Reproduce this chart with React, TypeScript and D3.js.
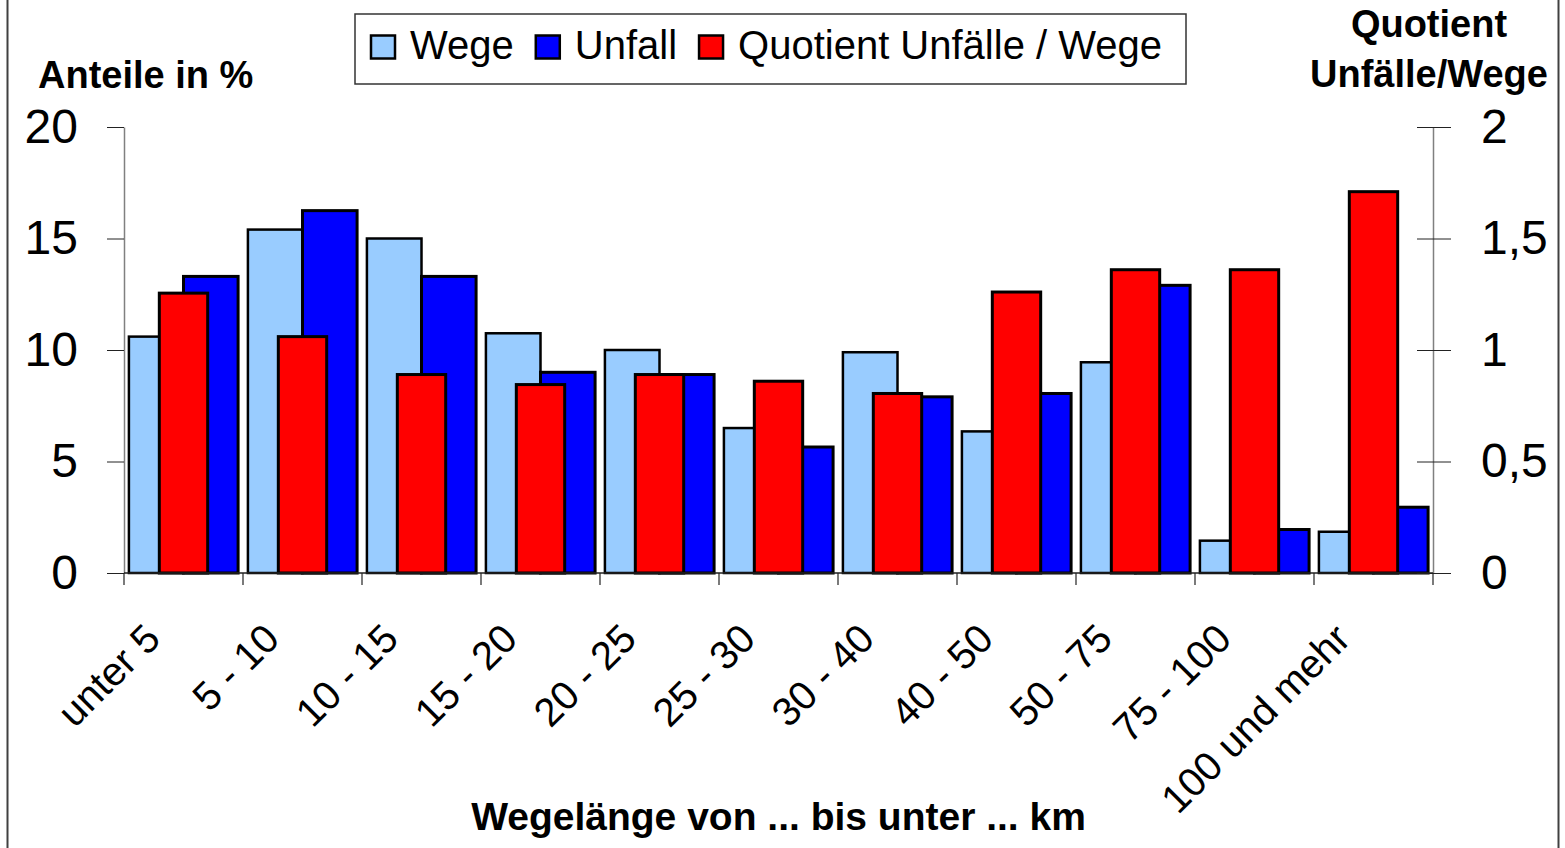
import React, { useEffect, useRef } from "react";
import * as d3 from "d3";

const categories = [
  "unter 5",
  "5 - 10",
  "10 - 15",
  "15 - 20",
  "20 - 25",
  "25 - 30",
  "30 - 40",
  "40 - 50",
  "50 - 75",
  "75 - 100",
  "100 und mehr",
];
const wege = [10.6, 15.4, 15.0, 10.75, 10.0, 6.5, 9.9, 6.35, 9.45, 1.45, 1.85];
const unfall = [13.3, 16.25, 13.3, 9.0, 8.9, 5.65, 7.9, 8.05, 12.9, 1.95, 2.95];
const quotient = [1.255, 1.06, 0.89, 0.845, 0.89, 0.86, 0.805, 1.26, 1.36, 1.36, 1.71];
const leftTicks = [0, 5, 10, 15, 20];
const rightTicks = [0, 0.5, 1, 1.5, 2];
const legendItems = [
  { label: "Wege", color: "#99CCFF" },
  { label: "Unfall", color: "#0000FF" },
  { label: "Quotient Unfälle / Wege", color: "#FF0000" },
];

const FONT = "'Liberation Sans', Arial, sans-serif";

const Chart: React.FC<{ width?: number; height?: number }> = ({
  width = 1565,
  height = 848,
}) => {
  const ref = useRef<SVGSVGElement | null>(null);

  useEffect(() => {
    const svg = d3.select(ref.current);
    svg.selectAll("*").remove();
    svg.attr("width", width).attr("height", height);

    const left = 124;
    const right = 1433;
    const top = 127;
    const bottom = 573;

    // outer frame
    svg
      .append("rect")
      .attr("x", 7.5)
      .attr("y", -3)
      .attr("width", 1551)
      .attr("height", height + 6)
      .attr("fill", "#fff")
      .attr("stroke", "#404040")
      .attr("stroke-width", 2);

    // scales
    const x = d3.scaleBand<string>().domain(categories).range([left, right]);
    const pair = d3
      .scaleBand<string>()
      .domain(["wege", "unfall"])
      .range([0, x.bandwidth()])
      .paddingInner(0)
      .paddingOuter(0.09);
    const single = d3
      .scaleBand<string>()
      .domain(["q"])
      .range([0, x.bandwidth()])
      .paddingOuter(0.73);
    const yL = d3.scaleLinear().domain([0, 20]).range([bottom, top]);
    const yR = d3.scaleLinear().domain([0, 2]).range([bottom, top]);
    const de = d3.formatLocale({
      decimal: ",",
      thousands: ".",
      grouping: [3],
      currency: ["", "€"],
    });
    const fmt = de.format("~g");

    // bars
    const drawBars = (
      vals: number[],
      color: string,
      xOff: (i: number) => number,
      w: number,
      y: d3.ScaleLinear<number, number>,
      sw: number,
    ) => {
      svg
        .append("g")
        .selectAll("rect")
        .data(vals)
        .enter()
        .append("rect")
        .attr("x", (d, i) => xOff(i))
        .attr("y", (d) => y(d))
        .attr("width", w)
        .attr("height", (d) => bottom - y(d))
        .attr("fill", color)
        .attr("stroke", "#000")
        .attr("stroke-width", sw);
    };
    drawBars(
      wege,
      "#99CCFF",
      (i) => (x(categories[i]) ?? 0) + (pair("wege") ?? 0),
      pair.bandwidth(),
      yL,
      2.5,
    );
    drawBars(
      unfall,
      "#0000FF",
      (i) => (x(categories[i]) ?? 0) + (pair("unfall") ?? 0),
      pair.bandwidth(),
      yL,
      3,
    );
    drawBars(
      quotient,
      "#FF0000",
      (i) => (x(categories[i]) ?? 0) + (single("q") ?? 0),
      single.bandwidth(),
      yR,
      3,
    );

    // left axis
    const gL = svg
      .append("g")
      .attr("transform", `translate(${left},0)`)
      .call(
        d3
          .axisLeft(yL)
          .tickValues(leftTicks)
          .tickSize(17)
          .tickSizeOuter(0)
          .tickPadding(29)
          .tickFormat((d) => fmt(+d)),
      );
    gL.attr("font-family", FONT).attr("font-size", 48);
    gL.select(".domain").attr("stroke", "#808080").attr("stroke-width", 1.5);
    gL.selectAll(".tick line").attr("stroke", "#222");
    gL.selectAll(".tick text").attr("fill", "#000");

    // right axis
    const gR = svg
      .append("g")
      .attr("transform", `translate(${right},0)`)
      .call(
        d3
          .axisRight(yR)
          .tickValues(rightTicks)
          .tickSize(18)
          .tickSizeOuter(0)
          .tickPadding(30)
          .tickFormat((d) => fmt(+d)),
      );
    gR.attr("font-family", FONT).attr("font-size", 48);
    gR.select(".domain").attr("stroke", "#808080").attr("stroke-width", 1.5);
    gR.selectAll(".tick line").attr("stroke", "#222").attr("x1", -16);
    gR.selectAll(".tick text").attr("fill", "#000");

    // x axis line and category ticks
    const bounds = categories.map((c) => x(c) ?? 0).concat([right]);
    svg
      .append("line")
      .attr("x1", left)
      .attr("x2", right)
      .attr("y1", bottom)
      .attr("y2", bottom)
      .attr("stroke", "#222")
      .attr("stroke-width", 1.5);
    svg
      .append("g")
      .selectAll("line")
      .data(bounds)
      .enter()
      .append("line")
      .attr("x1", (d) => d)
      .attr("x2", (d) => d)
      .attr("y1", bottom)
      .attr("y2", bottom + 12)
      .attr("stroke", "#222")
      .attr("stroke-width", 1.2);

    // category labels
    svg
      .append("g")
      .selectAll("text")
      .data(categories)
      .enter()
      .append("text")
      .attr(
        "transform",
        (d) =>
          `translate(${(x(d) ?? 0) + x.bandwidth() / 2 - 21},${bottom + 68}) rotate(-45)`,
      )
      .attr("text-anchor", "end")
      .attr("font-family", FONT)
      .attr("font-size", 40)
      .text((d) => d);

    // axis titles
    svg
      .append("text")
      .attr("x", 38)
      .attr("y", 88)
      .attr("font-family", FONT)
      .attr("font-weight", "bold")
      .attr("font-size", 38)
      .text("Anteile in %");

    const rt = svg
      .append("text")
      .attr("text-anchor", "middle")
      .attr("font-family", FONT)
      .attr("font-weight", "bold")
      .attr("font-size", 38);
    rt.append("tspan").attr("x", 1429).attr("y", 37).text("Quotient");
    rt.append("tspan").attr("x", 1429).attr("y", 87).text("Unfälle/Wege");

    svg
      .append("text")
      .attr("x", (left + right) / 2)
      .attr("y", 830)
      .attr("text-anchor", "middle")
      .attr("font-family", FONT)
      .attr("font-weight", "bold")
      .attr("font-size", 39)
      .text("Wegelänge von ... bis unter ... km");

    // legend
    const lg = svg.append("g");
    const box = lg
      .append("rect")
      .attr("x", 355)
      .attr("y", 14)
      .attr("height", 70)
      .attr("fill", "#fff")
      .attr("stroke", "#333")
      .attr("stroke-width", 1.5);
    let cx = 371;
    legendItems.forEach((it) => {
      lg.append("rect")
        .attr("x", cx)
        .attr("y", 35.5)
        .attr("width", 24)
        .attr("height", 23)
        .attr("fill", it.color)
        .attr("stroke", "#000")
        .attr("stroke-width", 2.5);
      const t = lg
        .append("text")
        .attr("x", cx + 39)
        .attr("y", 59)
        .attr("font-family", FONT)
        .attr("font-size", 40)
        .text(it.label);
      const tw = (t.node() as SVGTextElement).getComputedTextLength();
      cx = cx + 39 + tw + 22;
    });
    box.attr("width", cx - 22 + 24 - 355);
  }, [width, height]);

  return (
    <svg
      ref={ref}
      style={{ position: "absolute", left: 0, top: 0, display: "block" }}
    ></svg>
  );
};

export default function App() {
  return <Chart />;
}
